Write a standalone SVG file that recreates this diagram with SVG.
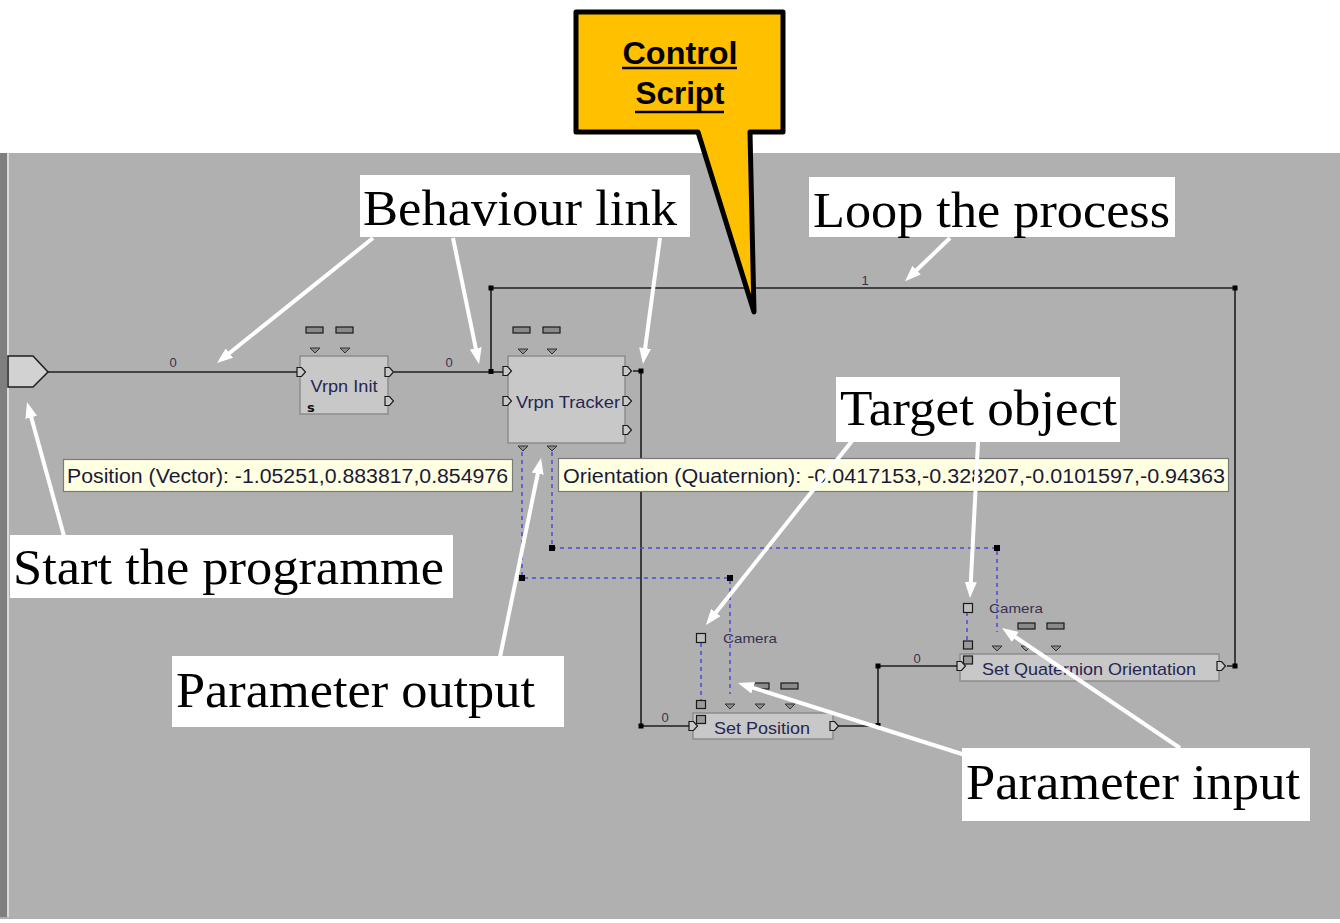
<svg xmlns="http://www.w3.org/2000/svg" width="1340" height="923" viewBox="0 0 1340 923">
  <style>
    .box { fill: #c8c8c8; stroke: #8c8c8c; stroke-width: 1.5; }
    .pin { fill: #c8c8c8; stroke: #1a1a1a; stroke-width: 1.2; }
    .ptri { fill: #8c8c8c; stroke: #333; stroke-width: 1; }
    .pbar { fill: #8a8a8a; stroke: #1a1a1a; stroke-width: 1.2; }
    .psq { fill: #9a9a9a; stroke: #1a1a1a; stroke-width: 1.2; }
    .psq2 { fill: #bdbdbd; stroke: #1a1a1a; stroke-width: 1.2; }
    .link { fill: none; stroke: #1e1e1e; stroke-width: 1.6; }
    .plink { fill: none; stroke: #4b4bdc; stroke-width: 1.5; stroke-dasharray: 4 4; }
    .dot { fill: #000; }
    .nlabel { font-family: "Liberation Sans", Arial, sans-serif; font-size: 17px; fill: #262650; }
    .small { font-family: "Liberation Sans", Arial, sans-serif; font-size: 13px; fill: #3a3050; }
    .tip { fill: #ffffe1; stroke: #7a7a7a; stroke-width: 1.2; }
    .tiptext { font-family: "Liberation Sans", Arial, sans-serif; font-size: 20px; fill: #1a1a3a; }
    .note { fill: #ffffff; }
    .notetext { font-family: "Liberation Serif", "Times New Roman", serif; font-size: 50px; fill: #000; }
    .calltext { font-family: "Liberation Sans", Arial, sans-serif; font-weight: bold; font-size: 32px; fill: #000; }
    .pointer { fill: none; stroke: #ffffff; stroke-width: 4; marker-end: url(#head); }
  </style>
  <defs>
    <marker id="head" viewBox="0 0 16 12" markerWidth="16" markerHeight="12" refX="10" refY="6" orient="auto" markerUnits="userSpaceOnUse">
      <path d="M0,0 L16,6 L0,12 z" fill="#ffffff"/>
    </marker>
    <path id="pinShape" class="pin" d="M0,-4.5 h4.5 l4,4.5 l-4,4.5 h-4.5 z"/>
    <path id="triShape" class="ptri" d="M-5,0 h10 l-5,5 z"/>
    <rect id="barShape" class="pbar" x="0" y="0" width="17" height="6"/>
  </defs>

  <!-- page and canvas -->
  <rect x="0" y="0" width="1340" height="923" fill="#ffffff"/>
  <rect x="0" y="153" width="1340" height="766" fill="#b0b0b0"/>
  <rect x="0" y="153" width="7" height="764" fill="#7f7f7f"/>
  <line x1="8" y1="153" x2="8" y2="917" stroke="#e8e8e8" stroke-width="1.5"/>

  <!-- behaviour and parameter links -->
  <g id="connectors">
    <polyline class="link" points="48,372 300,372"/>
    <polyline class="link" points="394,372 503,372"/>
    <polyline class="link" points="491,372 491,288 1235,288 1235,666 1227,666"/>
    <polyline class="link" points="633,371 641,371 641,726 689,726"/>
    <polyline class="link" points="838,726 878,726 878,666 957,666"/>
    <rect class="dot" x="488.5" y="369" width="5" height="5"/>
    <rect class="dot" x="488.5" y="285.5" width="5" height="5"/>
    <rect class="dot" x="1232.5" y="285.5" width="5" height="5"/>
    <rect class="dot" x="1232.5" y="663.5" width="5" height="5"/>
    <rect class="dot" x="638.5" y="368.5" width="5" height="5"/>
    <rect class="dot" x="638.5" y="723.5" width="5" height="5"/>
    <rect class="dot" x="875.5" y="663.5" width="5" height="5"/>
    <rect class="dot" x="875.5" y="723" width="5" height="5"/>
    <text class="small" x="173" y="367" text-anchor="middle">0</text>
    <text class="small" x="449" y="367" text-anchor="middle">0</text>
    <text class="small" x="865" y="285" text-anchor="middle">1</text>
    <text class="small" x="665" y="722" text-anchor="middle">0</text>
    <text class="small" x="917" y="663" text-anchor="middle">0</text>

    <polyline class="plink" points="522,452 522,578 730,578 730,694"/>
    <polyline class="plink" points="552,452 552,548 997,548 997,632"/>
    <polyline class="plink" points="701,643 701,700"/>
    <polyline class="plink" points="967,612 967,641"/>
    <rect class="dot" x="519" y="575" width="6" height="6"/>
    <rect class="dot" x="549" y="545" width="6" height="6"/>
    <rect class="dot" x="727" y="575" width="6" height="6"/>
    <rect class="dot" x="994" y="545" width="6" height="6"/>
  </g>

  <!-- script start -->
  <g id="start">
    <polygon points="8,356 33,356 48,372 33,387 8,387" fill="#d2d2d2" stroke="#1e1e1e" stroke-width="1.5"/>
  </g>

  <g id="vrpn-init">
    <use href="#barShape" x="306" y="327"/>
    <use href="#barShape" x="336" y="327"/>
    <use href="#triShape" x="315" y="348"/>
    <use href="#triShape" x="345" y="348"/>
    <rect class="box" x="300" y="356" width="88" height="58"/>
    <use href="#pinShape" x="297" y="372"/>
    <use href="#pinShape" x="385" y="372"/>
    <use href="#pinShape" x="385" y="401"/>
    <text class="nlabel" x="344" y="392" text-anchor="middle" textLength="67" lengthAdjust="spacingAndGlyphs">Vrpn Init</text>
    <text x="307" y="412" font-family="'DejaVu Sans', sans-serif" font-size="13" font-weight="bold" fill="#111">s</text>
  </g>

  <g id="vrpn-tracker">
    <use href="#barShape" x="513" y="327"/>
    <use href="#barShape" x="543" y="327"/>
    <use href="#triShape" x="523" y="349"/>
    <use href="#triShape" x="552" y="349"/>
    <rect class="box" x="508" y="356" width="117" height="87"/>
    <use href="#pinShape" x="503" y="371"/>
    <use href="#pinShape" x="503" y="401"/>
    <use href="#pinShape" x="623" y="371"/>
    <use href="#pinShape" x="623" y="401"/>
    <use href="#pinShape" x="623" y="430"/>
    <use href="#triShape" x="523" y="446"/>
    <use href="#triShape" x="552" y="446"/>
    <text class="nlabel" x="568" y="408" text-anchor="middle" textLength="104" lengthAdjust="spacingAndGlyphs">Vrpn Tracker</text>
  </g>

  <g id="set-position">
    <rect class="psq2" x="696.5" y="633.5" width="9" height="9"/>
    <text class="small" x="723" y="643" textLength="54" lengthAdjust="spacingAndGlyphs">Camera</text>
    <use href="#barShape" x="752" y="683"/>
    <use href="#barShape" x="781" y="683"/>
    <rect class="psq" x="696.5" y="700.5" width="9" height="8"/>
    <use href="#triShape" x="730" y="704"/>
    <use href="#triShape" x="760" y="704"/>
    <use href="#triShape" x="790" y="704"/>
    <rect class="box" x="693" y="713" width="140" height="26"/>
    <rect class="psq" x="696.5" y="715.5" width="9" height="8"/>
    <use href="#pinShape" x="689" y="726"/>
    <use href="#pinShape" x="830" y="726"/>
    <text class="nlabel" x="762" y="734" text-anchor="middle" textLength="96" lengthAdjust="spacingAndGlyphs">Set Position</text>
  </g>

  <g id="set-quaternion-orientation">
    <rect class="psq2" x="963.5" y="603.5" width="9" height="9"/>
    <text class="small" x="989" y="613" textLength="54" lengthAdjust="spacingAndGlyphs">Camera</text>
    <use href="#barShape" x="1018" y="623"/>
    <use href="#barShape" x="1047" y="623"/>
    <rect class="psq" x="963.5" y="641" width="9" height="8"/>
    <use href="#triShape" x="997" y="646"/>
    <use href="#triShape" x="1026" y="646"/>
    <use href="#triShape" x="1056" y="646"/>
    <rect class="box" x="960" y="654" width="259" height="27"/>
    <rect class="psq" x="963.5" y="656" width="9" height="8"/>
    <use href="#pinShape" x="957" y="666"/>
    <use href="#pinShape" x="1217" y="666"/>
    <text class="nlabel" x="1089" y="675" text-anchor="middle" textLength="214" lengthAdjust="spacingAndGlyphs">Set Quaternion Orientation</text>
  </g>

  <!-- parameter value tooltips -->
  <g id="tooltip-position">
    <rect class="tip" x="63.5" y="459.5" width="449" height="32"/>
    <text class="tiptext" x="67" y="483" textLength="441" lengthAdjust="spacingAndGlyphs">Position (Vector): -1.05251,0.883817,0.854976</text>
  </g>
  <g id="tooltip-orientation">
    <rect class="tip" x="558.5" y="458.5" width="670" height="33"/>
    <text class="tiptext" x="563" y="483" textLength="662" lengthAdjust="spacingAndGlyphs">Orientation (Quaternion): -0.0417153,-0.328207,-0.0101597,-0.94363</text>
  </g>

  <!-- callout -->
  <g id="control-script">
    <path d="M576,12 H783 V132 H750 L754,312 L698,132 H576 Z" fill="#ffc000" stroke="#000" stroke-width="5" stroke-linejoin="round"/>
    <text class="calltext" x="680" y="64" text-anchor="middle" textLength="115" lengthAdjust="spacingAndGlyphs">Control</text>
    <text class="calltext" x="680" y="104" text-anchor="middle" textLength="89" lengthAdjust="spacingAndGlyphs">Script</text>
    <line x1="622" y1="68" x2="737" y2="68" stroke="#000" stroke-width="2.5"/>
    <line x1="635" y1="112" x2="724" y2="112" stroke="#000" stroke-width="2.5"/>
  </g>

  <!-- annotations -->
  <g id="note-behaviour-link">
    <rect class="note" x="360" y="175" width="330" height="62"/>
    <text class="notetext" x="363" y="225" textLength="314" lengthAdjust="spacingAndGlyphs">Behaviour link</text>
  </g>
  <g id="note-loop">
    <rect class="note" x="809" y="177" width="366" height="60"/>
    <text class="notetext" x="813" y="227" textLength="357" lengthAdjust="spacingAndGlyphs">Loop the process</text>
  </g>
  <g id="note-target">
    <rect class="note" x="836" y="377" width="284" height="65"/>
    <text class="notetext" x="840" y="425" textLength="277" lengthAdjust="spacingAndGlyphs">Target object</text>
  </g>
  <g id="note-start">
    <rect class="note" x="10" y="535" width="443" height="63"/>
    <text class="notetext" x="13" y="584" textLength="431" lengthAdjust="spacingAndGlyphs">Start the programme</text>
  </g>
  <g id="note-param-output">
    <rect class="note" x="172" y="656" width="392" height="71"/>
    <text class="notetext" x="176" y="707" textLength="359" lengthAdjust="spacingAndGlyphs">Parameter output</text>
  </g>
  <g id="note-param-input">
    <rect class="note" x="962" y="748" width="348" height="73"/>
    <text class="notetext" x="966" y="799" textLength="334" lengthAdjust="spacingAndGlyphs">Parameter input</text>
  </g>

  <g id="pointers">
    <line class="pointer" x1="373" y1="238" x2="221.7" y2="359.3"/>
    <line class="pointer" x1="453" y1="238" x2="477.8" y2="358.1"/>
    <line class="pointer" x1="660" y1="238" x2="643.8" y2="358"/>
    <line class="pointer" x1="950" y1="238" x2="909.4" y2="277"/>
    <line class="pointer" x1="64" y1="536" x2="28.6" y2="407.8"/>
    <line class="pointer" x1="500" y1="657" x2="539.8" y2="463.9"/>
    <line class="pointer" x1="852" y1="441" x2="709.7" y2="620.3"/>
    <line class="pointer" x1="978" y1="442" x2="970.3" y2="592"/>
    <line class="pointer" x1="965" y1="755" x2="743.7" y2="684.8"/>
    <line class="pointer" x1="1180" y1="748" x2="1007" y2="631.4"/>
  </g>
</svg>
